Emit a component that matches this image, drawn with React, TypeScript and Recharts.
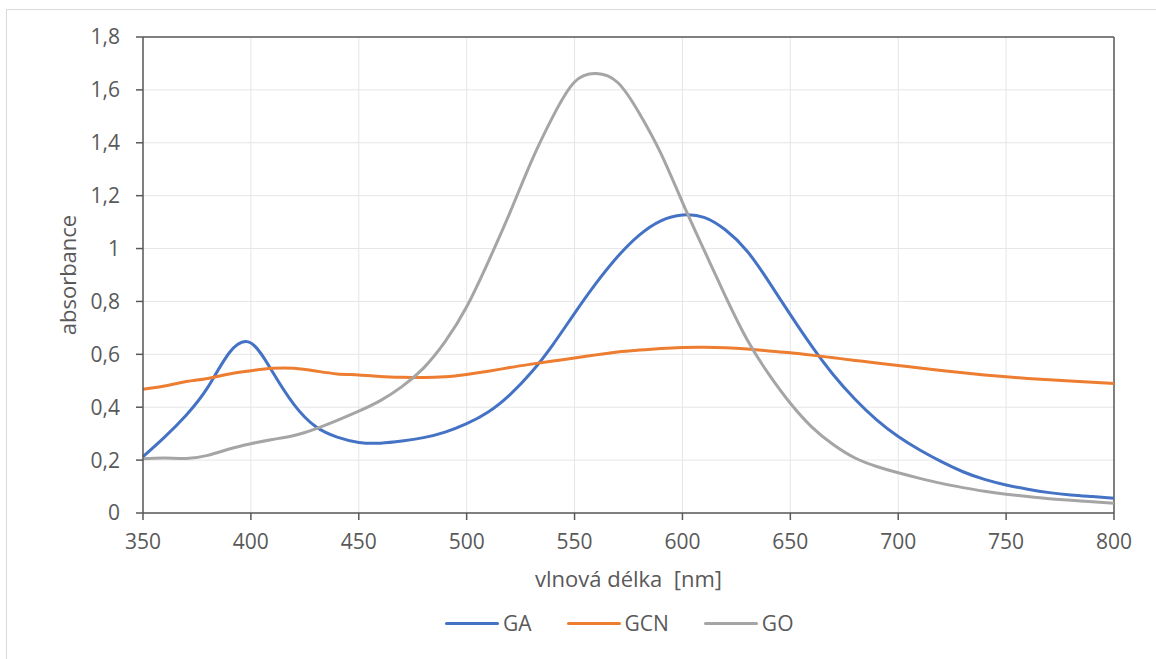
import {
  CartesianGrid,
  Legend,
  Line,
  LineChart,
  ReferenceLine,
  XAxis,
  YAxis,
} from "recharts";

const wavelengths = [
  350, 360, 370, 380, 390, 400, 410, 420, 430, 440, 450, 460, 470, 480, 490, 500, 510, 520, 530, 540,
  550, 560, 570, 580, 590, 600, 610, 620, 630, 640, 650, 660, 670, 680, 690, 700, 710, 720, 730, 740,
  750, 760, 770, 780, 790, 800,
];

const gaValues = [
  0.213, 0.287, 0.37, 0.475, 0.606, 0.643, 0.534, 0.41, 0.327, 0.287, 0.267, 0.264, 0.272, 0.285, 0.306,
  0.338, 0.382, 0.447, 0.532, 0.637, 0.755, 0.869, 0.97, 1.051, 1.105, 1.127, 1.118, 1.07, 0.99, 0.875,
  0.75, 0.63, 0.522, 0.43, 0.352, 0.289, 0.238, 0.194, 0.156, 0.127, 0.106, 0.09, 0.077, 0.068, 0.062,
  0.056,
];

const gcnValues = [
  0.468, 0.48, 0.497, 0.509, 0.526, 0.538, 0.547, 0.547, 0.537, 0.526, 0.522, 0.516, 0.513, 0.512, 0.515,
  0.524, 0.536, 0.55, 0.563, 0.575, 0.586, 0.598, 0.609, 0.616, 0.622, 0.626, 0.627, 0.625, 0.62, 0.613,
  0.606, 0.597, 0.587, 0.577, 0.567, 0.558, 0.548, 0.539, 0.53, 0.522, 0.515, 0.509, 0.504, 0.499, 0.494,
  0.49,
];

const goValues = [
  0.205, 0.208, 0.206, 0.218, 0.242, 0.262, 0.278, 0.293, 0.318, 0.35, 0.385, 0.425, 0.478, 0.548, 0.648,
  0.78, 0.95, 1.135, 1.33, 1.5, 1.63, 1.662, 1.628, 1.512, 1.36, 1.175, 0.995, 0.818, 0.655, 0.525, 0.415,
  0.325, 0.258, 0.208, 0.176, 0.152, 0.131, 0.112, 0.096, 0.082, 0.071, 0.062, 0.054, 0.048, 0.043, 0.037,
];

const xTicks = [350, 400, 450, 500, 550, 600, 650, 700, 750, 800];
const yTicks = [0, 0.2, 0.4, 0.6, 0.8, 1, 1.2, 1.4, 1.6, 1.8];

const series = [
  { key: "GA", color: "#4472C4" },
  { key: "GCN", color: "#ED7D31" },
  { key: "GO", color: "#A5A5A5" },
];

const rows = wavelengths.map((wl, i) => ({
  wl,
  GA: gaValues[i],
  GCN: gcnValues[i],
  GO: goValues[i],
}));

const textColor = "#595959";
const font = '"Open Sans", sans-serif';

function LegendRow() {
  return (
    <div style={{ display: "flex", alignItems: "center", paddingLeft: 445, gap: 35, fontFamily: font }}>
      {series.map((s) => (
        <div key={s.key} style={{ display: "flex", alignItems: "center" }}>
          <span style={{ width: 54, height: 3, background: s.color, borderRadius: 2 }} />
          <span style={{ marginLeft: 4, fontSize: 21, color: textColor }}>{s.key}</span>
        </div>
      ))}
    </div>
  );
}

export default function App() {
  return (
    <div
      style={{
        position: "absolute",
        left: 0,
        top: 0,
        width: 1156,
        height: 659,
        overflow: "hidden",
        background: "#fff",
        fontFamily: font,
      }}
    >
      <div
        style={{
          position: "absolute",
          left: 6,
          top: 9,
          width: 1200,
          height: 700,
          border: "1.5px solid #d9d9d9",
        }}
      />
      <LineChart
        width={1156}
        height={659}
        data={rows}
        margin={{ top: 37, right: 42, left: 58, bottom: 106 }}
      >
        <CartesianGrid stroke="#e6e6e6" strokeWidth={1} />
        <XAxis
          dataKey="wl"
          type="number"
          domain={[350, 800]}
          ticks={xTicks}
          height={40}
          tickSize={7}
          tickMargin={14}
          stroke={textColor}
          strokeWidth={1.5}
          tick={{ fill: textColor, fontSize: 21, fontFamily: font }}
          label={{
            value: "vlnová délka \u00a0[nm]",
            position: "bottom",
            offset: 18,
            fill: textColor,
            fontSize: 22,
            fontFamily: font,
          }}
        />
        <YAxis
          type="number"
          domain={[0, 1.8]}
          ticks={yTicks}
          width={85}
          tickSize={7}
          tickMargin={16}
          stroke={textColor}
          strokeWidth={1.5}
          tick={{ fill: textColor, fontSize: 21, fontFamily: font }}
          tickFormatter={(v: number) => String(Math.round(v * 10) / 10).replace(".", ",")}
          label={{
            value: "absorbance",
            angle: -90,
            position: "insideLeft",
            offset: 10,
            textAnchor: "middle",
            fill: textColor,
            fontSize: 22,
            fontFamily: font,
          }}
        />
        <ReferenceLine y={1.8} stroke={textColor} strokeWidth={1.5} />
        <ReferenceLine x={800} stroke={textColor} strokeWidth={1.5} />
        {series.map((s) => (
          <Line
            key={s.key}
            dataKey={s.key}
            type="natural"
            stroke={s.color}
            strokeWidth={3}
            dot={false}
            activeDot={false}
            isAnimationActive={false}
          />
        ))}
        <Legend
          verticalAlign="middle"
          content={() => <LegendRow />}
          wrapperStyle={{ top: 609, left: 0, width: 1156, height: 30 }}
        />
      </LineChart>
    </div>
  );
}
